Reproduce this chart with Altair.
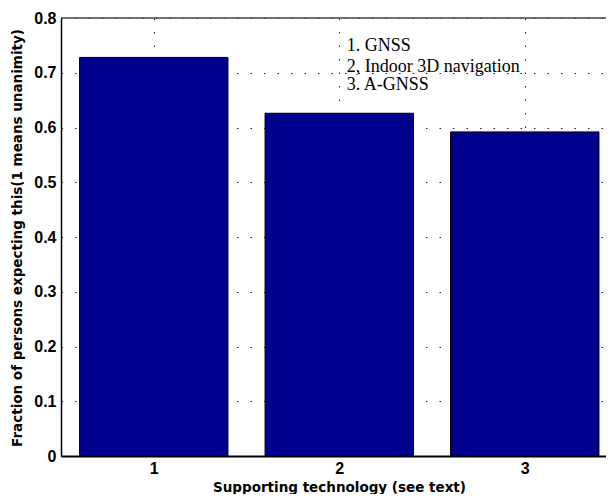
import altair as alt
import pandas as pd

techs = [1, 2, 3]
fractions = [0.728, 0.626, 0.592]
notes = ["1. GNSS", "2, Indoor 3D navigation", "3. A-GNSS"]
note_x = [2.04, 2.04, 2.04]
note_y = [0.740, 0.702, 0.668]
y_ticks = [0, 0.1, 0.2, 0.3, 0.4, 0.5, 0.6, 0.7, 0.8]
x_range = [0.5, 3.438]

bars_df = pd.DataFrame({"tech": techs, "frac": fractions, "base": [0, 0, 0]})
notes_df = pd.DataFrame({"note": notes, "nx": note_x, "ny": note_y})
frame_df = pd.DataFrame({"xa": [x_range[0]], "xb": [x_range[1]], "yt": [y_ticks[-1]]})

x_scale = alt.Scale(domain=x_range, nice=False, zero=False)
y_scale = alt.Scale(domain=[y_ticks[0], y_ticks[-1]], nice=False, zero=True)

font = "Liberation Sans"
tfont = "DejaVu Sans"

bars = alt.Chart(bars_df).transform_calculate(
    x0="datum.tech - 0.4", x1="datum.tech + 0.4"
).mark_rect(color="#00008C", stroke="black", strokeWidth=1).encode(
    x=alt.X("x0:Q", scale=x_scale, axis=alt.Axis(
        values=techs, format="d", title="Supporting technology (see text)",
        grid=True, gridDash=[1.5, 12], gridColor="#222", gridWidth=1,
        ticks=False, labelPadding=4, labelFont=font, labelFontSize=16,
        labelFontWeight="bold", labelColor="black",
        domainColor="black", domainWidth=2,
        titleFont=tfont, titleFontSize=13.5, titleFontWeight="bold", titleColor="black",
        titleX=278, titleY=35, titleAlign="center", titleBaseline="alphabetic",
    )),
    x2="x1:Q",
    y=alt.Y("frac:Q", scale=y_scale, axis=alt.Axis(
        values=y_ticks, labelExpr="datum.value == 0 ? '0' : format(datum.value, '.1f')",
        title="Fraction of persons expecting this(1 means unanimity)",
        grid=True, gridDash=[1.5, 12], gridColor="#222", gridWidth=1,
        ticks=False, labelPadding=5, labelFont=font, labelFontSize=16,
        labelFontWeight="bold", labelColor="black",
        domainColor="black", domainWidth=1.5,
        titleFont=tfont, titleFontSize=13.5, titleFontWeight="bold", titleColor="black",
        titleX=-44, titleY=219.5, titleAngle=-90, titleAlign="center", titleBaseline="middle",
    )),
    y2="base:Q",
)

frame = alt.Chart(frame_df).mark_rule(color="#444", strokeWidth=1.5).encode(
    x=alt.X("xa:Q", scale=x_scale), x2="xb:Q", y=alt.Y("yt:Q", scale=y_scale)
)

text = alt.Chart(notes_df).mark_text(
    align="left", baseline="alphabetic", font="Liberation Serif", fontSize=18, color="black"
).encode(
    x=alt.X("nx:Q", scale=x_scale), y=alt.Y("ny:Q", scale=y_scale), text="note:N"
)

chart = alt.layer(bars, frame, text).properties(
    width=545, height=438,
    autosize=alt.AutoSizeParams(type="none"),
    padding={"left": 53, "top": 10, "right": 0, "bottom": 38},
    background="white",
).configure_view(stroke=None)

chart.save("out.html", embed_options={"renderer": "svg", "actions": False})
